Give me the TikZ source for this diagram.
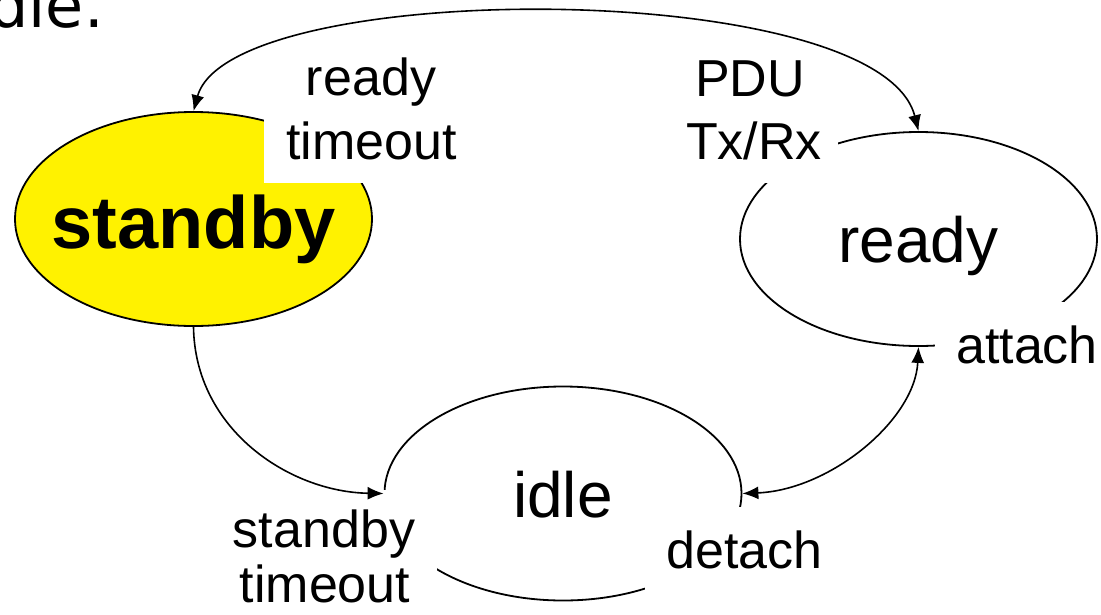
\documentclass[tikz,border=0pt]{standalone}
\usepackage{fontspec}
\setmainfont{Liberation Sans}
\newfontfamily\handfont{DejaVu Sans}
\usetikzlibrary{shapes.geometric,arrows.meta}
\begin{document}
\begin{tikzpicture}[x=1pt,y=-1pt,
  state/.style={ellipse,draw=black,line width=1.8pt,minimum width=357pt,
    minimum height=214pt,inner sep=-40pt,text depth=0pt},
  mask/.style={fill=white},
  lbl/.style={inner sep=0pt,anchor=base,font=\fontsize{52}{52}\selectfont},
  conn/.style={line width=1.6pt},
  tip/.style={-{Latex[length=16pt,width=13pt]}},
  bitip/.style={{Latex[length=16pt,width=13pt]}-{Latex[length=16pt,width=13pt]}}]

% page frame
\useasboundingbox (0,0) rectangle (1101,614);
\clip (0,0) rectangle (1101,614);
\fill[white] (0,0) rectangle (1101,614);

% heading fragment
\node[inner sep=0pt,anchor=base east,font=\handfont\fontsize{62}{62}\selectfont] (heading) at (104,27) {dle.};

% states
\node[state,fill=yellow,text height=58pt,font=\bfseries\fontsize{74}{74}\selectfont] (standby) at (193.5,219) {standby};
\node[state,text height=47pt,font=\fontsize{64}{64}\selectfont] (ready) at (918.5,239) {ready};
\node[state,text height=47pt,font=\fontsize{64}{64}\selectfont] (idle) at (563,493.5) {idle};

% white patches behind the transition labels
\fill[mask] (264,60) rectangle (478,183);
\fill[mask] (666,60) rectangle (838,183);
\fill[mask] (935,302) rectangle (1101,400);
\fill[mask] (215,490) rectangle (437,614);
\fill[mask] (645,507) rectangle (840,614);

% transition labels
\node[lbl] (rt1) at (371,95) {ready};
\node[lbl] (rt2) at (371.5,159) {timeout};
\node[lbl] (pdu1) at (750,96) {PDU};
\node[lbl] (pdu2) at (754,159) {Tx/Rx};
\node[lbl] (att) at (1027,363) {attach};
\node[lbl] (st1) at (324,547) {standby};
\node[lbl] (st2) at (325,602) {timeout};
\node[lbl] (det) at (744.5,568) {detach};

% transitions
\draw[conn,bitip] (standby.north) .. controls (230,-23) and (880,-23) .. (ready.north);
\draw[conn,tip] (standby.south) .. controls (195,430) and (290,492) .. (idle.west);
\draw[conn,bitip] (idle.east) .. controls (830,490) and (915,420) .. (ready.south);
\end{tikzpicture}
\end{document}
